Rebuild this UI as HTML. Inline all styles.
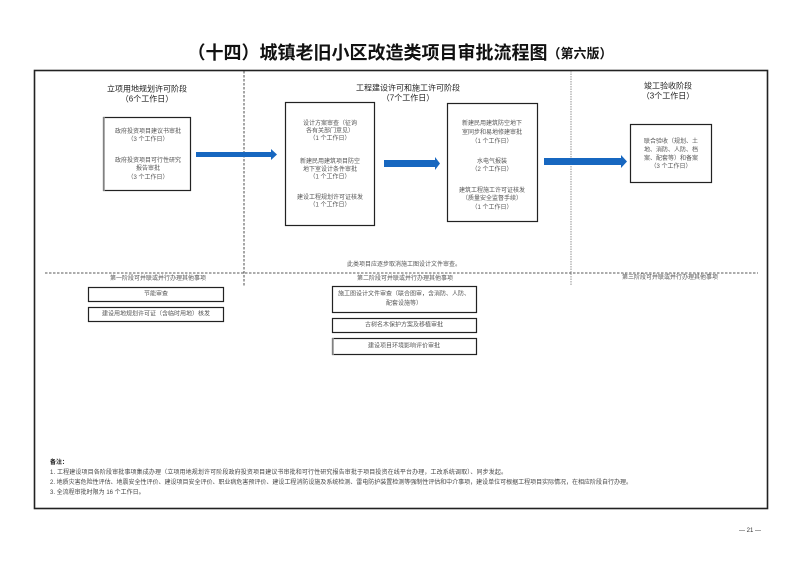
<!DOCTYPE html>
<html><head><meta charset="utf-8">
<style>
html,body{margin:0;padding:0;background:#fff;}
svg{display:block;}
text{font-family:"Liberation Sans","Noto Sans CJK SC",sans-serif;}
.t{font-size:6px;fill:#555;text-anchor:middle;dominant-baseline:central;}
.h{font-size:8px;fill:#222;text-anchor:middle;dominant-baseline:central;}
.n{font-size:6px;fill:#444;dominant-baseline:central;}
</style></head>
<body>
<svg width="800" height="565" viewBox="0 0 800 565" xmlns="http://www.w3.org/2000/svg">
<!-- title -->
<text x="400" y="52" text-anchor="middle" dominant-baseline="central" style="font-size:18px;font-weight:bold;fill:#111;font-family:'Noto Sans CJK SC',sans-serif;">（十四）城镇老旧小区改造类项目审批流程图<tspan style="font-size:13px;">（第六版）</tspan></text>

<!-- frame -->
<rect x="34.5" y="70.5" width="733" height="438" fill="none" stroke="#222" stroke-width="1.6"/>

<!-- dividers -->
<line x1="244" y1="71" x2="244" y2="286" stroke="#222" stroke-width="0.8" stroke-dasharray="2.5,1.5"/>
<line x1="571" y1="71" x2="571" y2="286" stroke="#888" stroke-width="0.9" stroke-dasharray="1.5,1"/>
<line x1="45" y1="273" x2="758" y2="273" stroke="#222" stroke-width="0.8" stroke-dasharray="2.5,1.5"/>

<!-- stage headers -->
<text class="h" x="147" y="89">立项用地规划许可阶段</text>
<text class="h" x="147" y="99">（6个工作日）</text>
<text class="h" x="408" y="88">工程建设许可和施工许可阶段</text>
<text class="h" x="408" y="98">（7个工作日）</text>
<text class="h" x="668" y="86">竣工验收阶段</text>
<text class="h" x="668" y="96">（3个工作日）</text>

<!-- left box -->
<rect x="103.5" y="117.5" width="87" height="73" fill="#fff" stroke="#222" stroke-width="1.2"/>
<line x1="104" y1="117" x2="104" y2="191" stroke="#999" stroke-width="1.6"/>
<text class="t" x="148" y="132">政府投资项目建议书审批</text>
<text class="t" x="148" y="140">（3 个工作日）</text>
<text class="t" x="148" y="161">政府投资项目可行性研究</text>
<text class="t" x="148" y="169">报告审批</text>
<text class="t" x="148" y="178">（3 个工作日）</text>

<!-- middle box 1 -->
<rect x="285.5" y="102.5" width="89" height="123" fill="#fff" stroke="#222" stroke-width="1.2"/>
<text class="t" x="330" y="124">设计方案审查（征询</text>
<text class="t" x="330" y="131.5">各有关部门意见）</text>
<text class="t" x="330" y="139">（1 个工作日）</text>
<text class="t" x="330" y="162">新建民用建筑项目防空</text>
<text class="t" x="330" y="170">地下室设计条件审批</text>
<text class="t" x="330" y="177.5">（1 个工作日）</text>
<text class="t" x="330" y="198">建设工程规划许可证核发</text>
<text class="t" x="330" y="205.5">（1 个工作日）</text>

<!-- middle box 2 -->
<rect x="447.5" y="103.5" width="90" height="118" fill="#fff" stroke="#222" stroke-width="1.2"/>
<text class="t" x="492" y="124">新建民用建筑防空地下</text>
<text class="t" x="492" y="133">室同步和易地修建审批</text>
<text class="t" x="492" y="142">（1 个工作日）</text>
<text class="t" x="492" y="162">水电气报装</text>
<text class="t" x="492" y="170">（2 个工作日）</text>
<text class="t" x="492" y="191">建筑工程施工许可证核发</text>
<text class="t" x="492" y="199">（质量安全监督手续）</text>
<text class="t" x="492" y="208">（1 个工作日）</text>

<!-- right box -->
<rect x="630.5" y="124.5" width="81" height="58" fill="#fff" stroke="#222" stroke-width="1.2"/>
<text class="t" x="671" y="142">联合验收（规划、土</text>
<text class="t" x="671" y="150.5">地、消防、人防、档</text>
<text class="t" x="671" y="159">案、配套等）和备案</text>
<text class="t" x="671" y="167">（3 个工作日）</text>

<!-- arrows -->
<polygon points="196,152 271,152 271,149 277,154.5 271,160 271,157 196,157" fill="#1767c0"/>
<polygon points="384,160 435,160 435,157 440,163.5 435,170 435,167 384,167" fill="#1767c0"/>
<polygon points="544,158 621,158 621,155 627,161.5 621,168 621,165 544,165" fill="#1767c0"/>

<!-- note above dashed line -->
<text class="t" x="404" y="265">此类项目应逐步取消施工图设计文件审查。</text>

<!-- parallel labels -->
<text class="t" x="158" y="279">第一阶段可并联或并行办理其他事项</text>
<text class="t" x="405" y="279">第二阶段可并联或并行办理其他事项</text>
<text class="t" x="670" y="278">第三阶段可并联或并行办理其他事项</text>

<!-- lower left boxes -->
<rect x="88.5" y="287.5" width="135" height="14" fill="#fff" stroke="#222" stroke-width="1.2"/>
<text class="t" x="156" y="294.5">节能审查</text>
<rect x="88.5" y="307.5" width="135" height="14" fill="#fff" stroke="#222" stroke-width="1.2"/>
<text class="t" x="156" y="314.5">建设用地规划许可证（含临时用地）核发</text>

<!-- lower middle boxes -->
<rect x="332.5" y="286.5" width="144" height="26" fill="#fff" stroke="#222" stroke-width="1.2"/>
<text class="t" x="404" y="294.5">施工图设计文件审查（联合图审，含消防、人防、</text>
<text class="t" x="404" y="304">配套设施等）</text>
<rect x="332.5" y="318.5" width="144" height="14" fill="#fff" stroke="#222" stroke-width="1.2"/>
<text class="t" x="404" y="325.5">古树名木保护方案及移植审批</text>
<rect x="332.5" y="338.5" width="144" height="16" fill="#fff" stroke="#222" stroke-width="1.2"/>
<line x1="333" y1="338" x2="333" y2="355" stroke="#999" stroke-width="1.6"/>
<text class="t" x="404" y="346.5">建设项目环境影响评价审批</text>

<!-- notes -->
<text class="n" x="50" y="463" style="font-weight:bold;fill:#222;">备注：</text>
<text class="n" x="50" y="473" textLength="457" lengthAdjust="spacing">1. 工程建设项目各阶段审批事项集成办理（立项用地规划许可阶段政府投资项目建议书审批和可行性研究报告审批于项目投资在线平台办理，工改系统调取）、同步发起。</text>
<text class="n" x="50" y="483" textLength="582" lengthAdjust="spacing">2. 地质灾害危险性评估、地震安全性评价、建设项目安全评价、职业病危害预评价、建设工程消防设施及系统检测、雷电防护装置检测等强制性评估和中介事项，建设单位可根据工程项目实际情况，在相应阶段自行办理。</text>
<text class="n" x="50" y="493">3. 全流程审批时限为 16 个工作日。</text>

<!-- page number -->
<text x="750" y="531" text-anchor="middle" dominant-baseline="central" style="font-size:6px;fill:#333;">— 21 —</text>
</svg>
</body></html>
